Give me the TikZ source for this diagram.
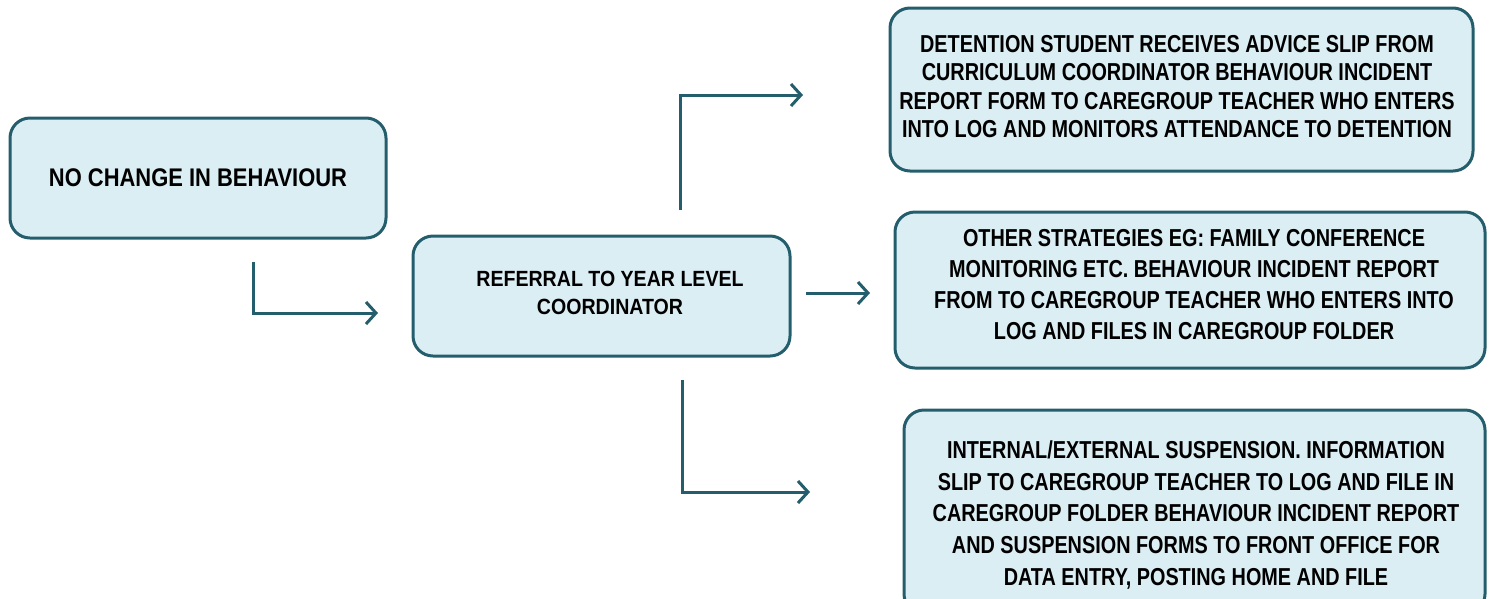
\documentclass[tikz,border=0pt]{standalone}
\usepackage{fontspec}
\setmainfont{Liberation Sans}[FakeStretch=0.84]
\newfontfamily\fa{Liberation Sans}[FakeStretch=0.86]
\newfontfamily\fb{Liberation Sans}[FakeStretch=0.89]
\newfontfamily\fc{Liberation Sans}[FakeStretch=0.81]
\usetikzlibrary{arrows.meta}
\definecolor{edge}{HTML}{245E6D}
\definecolor{boxfill}{HTML}{DBEEF4}
\tikzset{
  box/.style={draw=edge, fill=boxfill, line width=3pt, rounded corners=20pt, inner sep=0pt},
  txt/.style={align=center, inner sep=0pt},
  arr/.style={draw=edge, line width=3pt, -{Straight Barb[length=10pt,width=22pt]}}
}
\begin{document}
\begin{tikzpicture}[x=1pt,y=-1pt]
\useasboundingbox (0,0) rectangle (1495,598);
% boxes
\node[box, minimum width=376pt, minimum height=120pt] (nochange) at (198,178) {};
\node[box, minimum width=377pt, minimum height=120pt] (referral) at (601.5,296) {};
\node[box, minimum width=583pt, minimum height=163pt] (detention) at (1181.5,89.5) {};
\node[box, minimum width=590pt, minimum height=156pt] (other) at (1190,290) {};
\node[box, minimum width=581pt, minimum height=204pt] (suspension) at (1194.5,512) {};
% texts
\node[txt, font=\fa\bfseries\fontsize{25.5}{30}\selectfont] (nochangetext) at (198,178)
  {NO CHANGE IN BEHAVIOUR};
\node[txt, font=\fb\bfseries\fontsize{22}{28}\selectfont] (referraltext) at (610,293)
  {REFERRAL TO YEAR LEVEL\\COORDINATOR};
\node[txt, font=\fc\bfseries\fontsize{24.5}{28.5}\selectfont] (detentiontext) at (1177,86.5)
  {DETENTION STUDENT RECEIVES ADVICE SLIP FROM\\
   CURRICULUM COORDINATOR BEHAVIOUR INCIDENT\\
   REPORT FORM TO CAREGROUP TEACHER WHO ENTERS\\
   INTO LOG AND MONITORS ATTENDANCE TO DETENTION};
\node[txt, font=\fc\bfseries\fontsize{24.5}{31}\selectfont] (othertext) at (1194,285)
  {OTHER STRATEGIES EG: FAMILY CONFERENCE\\
   MONITORING ETC. BEHAVIOUR INCIDENT REPORT\\
   FROM TO CAREGROUP TEACHER WHO ENTERS INTO\\
   LOG AND FILES IN CAREGROUP FOLDER};
\node[txt, font=\fc\bfseries\fontsize{24.5}{31.7}\selectfont] (suspensiontext) at (1196,515)
  {INTERNAL/EXTERNAL SUSPENSION. INFORMATION\\
   SLIP TO CAREGROUP TEACHER TO LOG AND FILE IN\\
   CAREGROUP FOLDER BEHAVIOUR INCIDENT REPORT\\
   AND SUSPENSION FORMS TO FRONT OFFICE FOR\\
   DATA ENTRY, POSTING HOME AND FILE};
% connectors
\coordinate (a1s) at (253,262);
\coordinate (a1e) at (378,313);
\coordinate (a2s) at (680,210);
\coordinate (a2e) at (803,95);
\coordinate (a3s) at (806,293);
\coordinate (a3e) at (870,293);
\coordinate (a4s) at (682,380);
\coordinate (a4e) at (810,492);
\draw[arr] (a1s) |- (a1e);
\draw[arr] (a2s) |- (a2e);
\draw[arr] (a3s) -- (a3e);
\draw[arr] (a4s) |- (a4e);
\end{tikzpicture}
\end{document}
